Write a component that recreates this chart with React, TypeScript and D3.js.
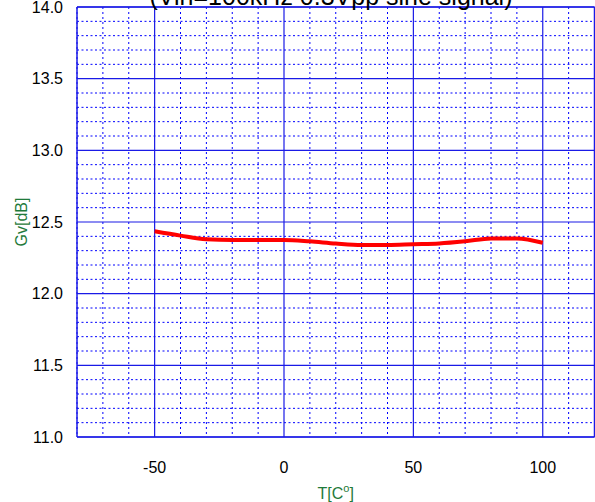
import React from "react";
import * as d3 from "d3";

const temps = [-50, -40, -30, -20, -10, 0, 10, 20, 30, 40, 50, 60, 70, 80, 90, 100];
const gain = [12.435, 12.405, 12.38, 12.375, 12.375, 12.375, 12.365, 12.35, 12.34, 12.34, 12.345, 12.35, 12.365, 12.385, 12.385, 12.355];
const xMajorTicks = [-50, 0, 50, 100];
const yMajorTicks = [11.0, 11.5, 12.0, 12.5, 13.0, 13.5, 14.0];
const titleText = "(Vin=100kHz 0.3Vpp sine signal)";

const W = 595;
const H = 502;
const L = 77;
const R = 594.5;
const T = 7;
const B = 437;

export default function App() {
  const x = d3.scaleLinear().domain([-80, 120]).range([L, R]);
  const y = d3.scaleLinear().domain([11, 14]).range([B, T]);
  const xMinor = d3.range(-80, 121, 10).filter((v) => v % 50 !== 0);
  const yMinor = d3.range(110, 141, 1).map((v) => v / 10).filter((v) => Math.round(v * 10) % 5 !== 0);
  const line = d3
    .line<number>()
    .x((_, i) => x(temps[i]))
    .y((d) => y(d))
    .curve(d3.curveMonotoneX);
  const blue = "#1a1ae6";
  const font = "Liberation Sans, Arial, sans-serif";
  return (
    <div style={{ position: "absolute", left: 0, top: 0 }}>
      <svg width={W} height={H} style={{ display: "block" }}>
        <rect x={0} y={0} width={W} height={H} fill="#fff" />
        {xMinor.map((v) => (
          <line key={"xm" + v} x1={x(v)} x2={x(v)} y1={T} y2={B} stroke="#0000ff" strokeWidth={1} strokeDasharray="2,3" />
        ))}
        {yMinor.map((v) => (
          <line key={"ym" + v} x1={L} x2={R} y1={y(v)} y2={y(v)} stroke="#0000ff" strokeWidth={1} strokeDasharray="2,2.5" />
        ))}
        {xMajorTicks.map((v) => (
          <line key={"xM" + v} x1={x(v)} x2={x(v)} y1={T} y2={B} stroke={blue} strokeWidth={1.2} />
        ))}
        {yMajorTicks.map((v) => (
          <line key={"yM" + v} x1={L} x2={R} y1={y(v)} y2={y(v)} stroke={blue} strokeWidth={1.2} />
        ))}
        <line x1={L} x2={L} y1={T} y2={B} stroke={blue} strokeWidth={1.5} />
        <line x1={L} x2={R} y1={B} y2={B} stroke={blue} strokeWidth={1.5} />
        <line x1={L} x2={R} y1={T} y2={T} stroke={blue} strokeWidth={1.5} />
        <line x1={R} x2={R} y1={T} y2={B} stroke={blue} strokeWidth={1.5} />
        <path d={line(gain) || ""} fill="none" stroke="#ff0000" strokeWidth={4} strokeLinejoin="round" />
        {yMajorTicks.map((v) => (
          <text key={"yl" + v} x={L - 14} y={y(v)} dy="0.35em" textAnchor="end" fontFamily={font} fontSize={16} fill="#000">
            {v.toFixed(1)}
          </text>
        ))}
        {xMajorTicks.map((v) => (
          <text key={"xl" + v} x={x(v)} y={467} dy="0.35em" textAnchor="middle" fontFamily={font} fontSize={16} fill="#000">
            {v}
          </text>
        ))}
        <text x={(L + R) / 2} y={499} textAnchor="middle" fontFamily={font} fontSize={16} fill="#1f7a3a">
          T[C<tspan dy="-7" fontSize={11}>o</tspan>
          <tspan dy="7">]</tspan>
        </text>
        <text transform={`translate(27,${(T + B) / 2}) rotate(-90)`} textAnchor="middle" fontFamily={font} fontSize={16} fill="#1f7a3a">
          Gv[dB]
        </text>
        <text x={331} y={5} textAnchor="middle" fontFamily={font} fontSize={25} fill="#000">
          {titleText}
        </text>
      </svg>
    </div>
  );
}
